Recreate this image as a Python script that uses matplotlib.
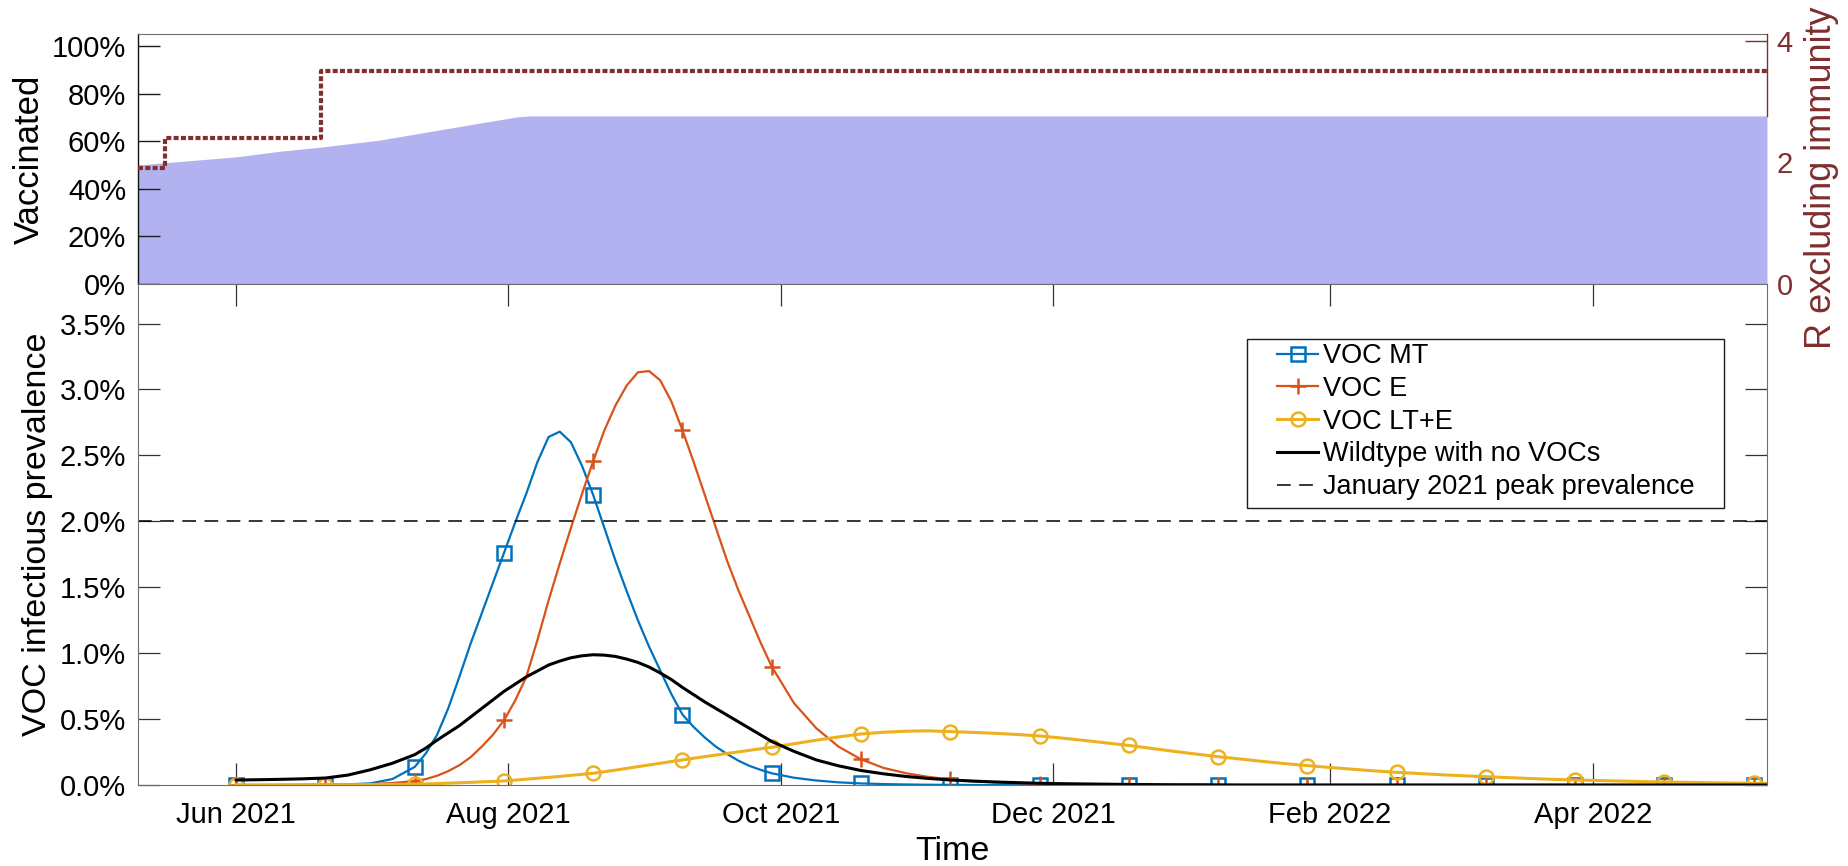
import matplotlib
matplotlib.use('Agg')
import matplotlib.pyplot as plt
import matplotlib.dates as mdates
from matplotlib.ticker import FixedLocator, FixedFormatter
from matplotlib.patches import Rectangle
import pandas as pd

plt.rcParams['font.family'] = ['Liberation Sans', 'DejaVu Sans']

# ---------------- data ----------------
x_start = '2021-05-10'
x_end = '2022-05-10'

vacc_dates = ['2021-05-10', '2021-06-01', '2021-06-11', '2021-06-20', '2021-07-03',
              '2021-07-14', '2021-07-25', '2021-08-03', '2021-08-06', '2022-05-10']
vacc_share = [0.500, 0.534, 0.558, 0.575, 0.604, 0.639, 0.674, 0.702, 0.706, 0.706]

r_dates = ['2021-05-10', '2021-05-16', '2021-06-20', '2022-05-10']
r_values = [1.9, 2.4, 3.5, 3.5]

# sample times, in days after 1 Jun 2021
prev_days = [0, 5, 10, 15, 20, 25, 30, 35, 40,
             42.5, 45, 47.5, 50, 52.5, 55, 57.5, 60, 62.5, 65, 67.5, 70, 72.5, 75, 77.5, 80,
             82.5, 85, 87.5, 90, 92.5, 95, 97.5, 100, 102.5, 105, 107.5, 110, 112.5, 115, 117.5, 120,
             125, 130, 135, 140, 145, 150, 155, 160, 165, 170, 175, 180, 185, 190, 195, 200,
             205, 210, 215, 220, 225, 230, 235, 240, 245, 250, 255, 260, 265, 270, 275, 280,
             285, 290, 295, 300, 305, 310, 315, 320, 325, 330, 335, 340, 343]
marker_days = [0, 20, 40, 60, 80, 100, 120, 140, 160, 180, 200, 220, 240, 260, 280, 300, 320, 340]

voc_mt = [0.0, 0.0, 0.0, 0.001, 0.002, 0.005, 0.012, 0.045, 0.137,
          0.24, 0.38, 0.58, 0.82, 1.07, 1.30, 1.53, 1.76, 1.99, 2.21, 2.45, 2.64, 2.68, 2.60, 2.42, 2.199,
          1.95, 1.70, 1.47, 1.25, 1.05, 0.87, 0.69, 0.534, 0.44, 0.36, 0.29, 0.235, 0.185, 0.145, 0.115, 0.089,
          0.055, 0.034, 0.02, 0.012, 0.007, 0.004, 0.002, 0.001, 0.0, 0.0, 0.0, 0.0, 0.0, 0.0, 0.0, 0.0,
          0.0, 0.0, 0.0, 0.0, 0.0, 0.0, 0.0, 0.0, 0.0, 0.0, 0.0, 0.0, 0.0, 0.0, 0.0, 0.0,
          0.0, 0.0, 0.0, 0.0, 0.0, 0.0, 0.0, 0.0, 0.0, 0.0, 0.0, 0.0, 0.0]

voc_e = [0.0, 0.0, 0.0, 0.001, 0.002, 0.004, 0.007, 0.015, 0.03,
         0.045, 0.07, 0.105, 0.15, 0.21, 0.29, 0.38, 0.49, 0.64, 0.82, 1.10, 1.40, 1.68, 1.95, 2.21, 2.457,
         2.69, 2.88, 3.03, 3.13, 3.14, 3.07, 2.91, 2.69, 2.45, 2.20, 1.95, 1.70, 1.48, 1.28, 1.08, 0.898,
         0.62, 0.43, 0.29, 0.195, 0.13, 0.09, 0.062, 0.042, 0.028, 0.02, 0.014, 0.01, 0.007, 0.005, 0.003, 0.002,
         0.001, 0.0, 0.0, 0.0, 0.0, 0.0, 0.0, 0.0, 0.0, 0.0, 0.0, 0.0, 0.0, 0.0, 0.0, 0.0,
         0.0, 0.0, 0.0, 0.0, 0.0, 0.0, 0.0, 0.0, 0.0, 0.0, 0.0, 0.0, 0.0]

voc_lte = [0.0, 0.0, 0.001, 0.001, 0.002, 0.002, 0.003, 0.004, 0.006,
           0.008, 0.011, 0.014, 0.017, 0.020, 0.024, 0.027, 0.031, 0.037, 0.044, 0.051, 0.058, 0.065, 0.073, 0.081, 0.089,
           0.101, 0.113, 0.126, 0.139, 0.152, 0.165, 0.178, 0.19, 0.203, 0.215, 0.227, 0.239, 0.251, 0.263, 0.275, 0.286,
           0.313, 0.340, 0.365, 0.387, 0.400, 0.408, 0.411, 0.405, 0.399, 0.392, 0.383, 0.372, 0.356, 0.338, 0.319, 0.30,
           0.278, 0.256, 0.235, 0.215, 0.197, 0.179, 0.162, 0.147, 0.133, 0.12, 0.107, 0.096, 0.087, 0.078, 0.07, 0.063,
           0.056, 0.049, 0.043, 0.038, 0.034, 0.030, 0.026, 0.023, 0.020, 0.017, 0.015, 0.013, 0.012]

wildtype = [0.038, 0.040, 0.043, 0.047, 0.053, 0.075, 0.115, 0.165, 0.23,
            0.28, 0.34, 0.395, 0.45, 0.515, 0.58, 0.645, 0.71, 0.765, 0.82, 0.865, 0.91, 0.94, 0.965, 0.98, 0.988,
            0.985, 0.975, 0.955, 0.93, 0.895, 0.85, 0.80, 0.74, 0.685, 0.63, 0.58, 0.53, 0.48, 0.43, 0.38, 0.33,
            0.255, 0.19, 0.145, 0.11, 0.085, 0.065, 0.05, 0.038, 0.03, 0.023, 0.018, 0.013, 0.01, 0.008, 0.006, 0.004,
            0.003, 0.002, 0.002, 0.001, 0.0, 0.0, 0.0, 0.0, 0.0, 0.0, 0.0, 0.0, 0.0, 0.0, 0.0, 0.0,
            0.0, 0.0, 0.0, 0.0, 0.0, 0.0, 0.0, 0.0, 0.0, 0.0, 0.0, 0.0, 0.0]

jan_peak = 2.0

series_labels = ['VOC MT', 'VOC E', 'VOC LT+E', 'Wildtype with no VOCs',
                 'January 2021 peak prevalence']

date_ticks = ['2021-06-01', '2021-08-01', '2021-10-01', '2021-12-01', '2022-02-01', '2022-04-01']
date_ticklabels = ['Jun 2021', 'Aug 2021', 'Oct 2021', 'Dec 2021', 'Feb 2022', 'Apr 2022']
vacc_ticks = [0, 0.2, 0.4, 0.6, 0.8, 1.0]
vacc_ticklabels = ['0%', '20%', '40%', '60%', '80%', '100%']
r_ticks = [0, 2, 4]
r_ticklabels = ['0', '2', '4']
prev_ticks = [0, 0.5, 1.0, 1.5, 2.0, 2.5, 3.0, 3.5]
prev_ticklabels = ['0.0%', '0.5%', '1.0%', '1.5%', '2.0%', '2.5%', '3.0%', '3.5%']

# ---------------- style ----------------
W, H = 1849, 866
C_BLUE = '#0072BD'
C_ORANGE = '#D95319'
C_YELLOW = '#EDB120'
C_RED = '#802E2E'
C_FILL = '#B2B2F0'
C_SPINE = '#6E6E6E'
TICK_FS = 21
LEG_FS = 19.5

fig = plt.figure(figsize=(W / 100, H / 100), dpi=100)

def fx(px):
    return px / W

def fy(py):
    return 1 - py / H

ax_l, ax_r = 138, 1767
top_t, top_b = 34, 284
low_t, low_b = 284, 785

ax_top = fig.add_axes([fx(ax_l), fy(top_b), fx(ax_r) - fx(ax_l), fy(top_t) - fy(top_b)])
ax_low = fig.add_axes([fx(ax_l), fy(low_b), fx(ax_r) - fx(ax_l), fy(low_t) - fy(low_b)])

xlim = (pd.Timestamp(x_start), pd.Timestamp(x_end))

# ---- top panel ----
vd = pd.to_datetime(vacc_dates)
ax_top.fill_between(vd, 0, vacc_share, color=C_FILL, linewidth=0, zorder=1)
ax_top.set_xlim(xlim)
ax_top.set_ylim(0, 1.05)
ax_top.set_xticks([])
ax_top.yaxis.set_major_locator(FixedLocator(vacc_ticks))
ax_top.yaxis.set_major_formatter(FixedFormatter(vacc_ticklabels))
ax_top.tick_params(axis='y', direction='in', length=16, width=1.0, color='#1a1a1a',
                   labelsize=TICK_FS, pad=8.5, right=False)
ax_top.set_ylabel('Vaccinated', fontsize=25, va='center')
ax_top.yaxis.set_label_coords((29 - ax_l) / (ax_r - ax_l), 0.5)
for s in ['top', 'bottom']:
    ax_top.spines[s].set_color(C_SPINE)
    ax_top.spines[s].set_linewidth(0.8)
ax_top.spines['right'].set_visible(False)
ax_top.spines['left'].set_color('#111111')
ax_top.spines['left'].set_linewidth(1.0)

ax_r2 = ax_top.twinx()
rd = pd.to_datetime(r_dates)
ax_r2.plot(rd, r_values, drawstyle='steps-post', color=C_RED, linewidth=3.0,
           linestyle=(0, (1.2, 0.55)), dash_capstyle='butt')
ax_r2.set_xlim(xlim)
ax_r2.set_ylim(0, 4.11)
ax_r2.yaxis.set_major_locator(FixedLocator(r_ticks))
ax_r2.yaxis.set_major_formatter(FixedFormatter(r_ticklabels))
ax_r2.tick_params(axis='y', direction='in', length=16, width=1.0, color=C_RED,
                  labelcolor=C_RED, labelsize=TICK_FS, pad=7)
for t in ax_r2.yaxis.get_major_ticks()[:2]:
    t.tick2line.set_visible(False)
ax_r2.spines['right'].set_color(C_RED)
ax_r2.spines['right'].set_linewidth(1.0)
ax_r2.spines['right'].set_bounds(2.77, 4.11)
for s in ['top', 'bottom', 'left']:
    ax_r2.spines[s].set_visible(False)
ax_r2.set_ylabel('R excluding immunity', fontsize=26, color=C_RED,
                 rotation=90, va='center')
ax_r2.yaxis.set_label_coords((1822 - ax_l) / (ax_r - ax_l), (top_b - 178) / (top_b - top_t))

# ---- lower panel ----
t0 = pd.Timestamp('2021-06-01')
pdx = [t0 + pd.Timedelta(days=d) for d in prev_days]
mk = [prev_days.index(d) for d in marker_days]
ax_low.plot(pdx, voc_mt, color=C_BLUE, linewidth=1.6, marker='s', markersize=9.5,
            markerfacecolor='none', markeredgewidth=1.8, markevery=mk, label=series_labels[0])
ax_low.plot(pdx, voc_e, color=C_ORANGE, linewidth=1.6, marker='+', markersize=11,
            markeredgewidth=1.8, markevery=mk, label=series_labels[1])
ax_low.plot(pdx, voc_lte, color=C_YELLOW, linewidth=2.2, marker='o', markersize=10,
            markerfacecolor='none', markeredgewidth=1.8, markevery=mk, label=series_labels[2])
ax_low.plot(pdx, wildtype, color='black', linewidth=2.2, label=series_labels[3])
ax_low.axhline(jan_peak, color='black', linewidth=1.1, linestyle=(0, (9, 5.5)),
               label=series_labels[4])

ax_low.set_xlim(xlim)
ax_low.set_ylim(0, 3.8)
ax_low.xaxis.set_major_locator(FixedLocator(mdates.date2num(pd.to_datetime(date_ticks))))
ax_low.xaxis.set_major_formatter(FixedFormatter(date_ticklabels))
ax_low.yaxis.set_major_locator(FixedLocator(prev_ticks))
ax_low.yaxis.set_major_formatter(FixedFormatter(prev_ticklabels))
ax_low.tick_params(axis='both', direction='in', length=16, width=0.9, color='#333333',
                   labelsize=TICK_FS, top=True, right=True)
ax_low.tick_params(axis='x', pad=11.5)
ax_low.tick_params(axis='y', pad=8.5)
for s in ax_low.spines.values():
    s.set_color(C_SPINE)
    s.set_linewidth(0.8)
ax_low.set_ylabel('VOC infectious prevalence', fontsize=24.5, va='center')
ax_low.yaxis.set_label_coords((38 - ax_l) / (ax_r - ax_l), 0.5)
ax_low.set_xlabel('Time', fontsize=24.5, va='center')
ax_low.xaxis.set_label_coords(0.5, (low_b - 852) / (low_b - low_t))

# legend with MATLAB-like box
box = Rectangle((fx(1247), fy(508)), fx(1724) - fx(1247), fy(339) - fy(508),
                transform=fig.transFigure, facecolor='white', edgecolor='#1a1a1a',
                linewidth=1.0, zorder=4.5, clip_on=False)
ax_low.add_patch(box)
leg = ax_low.legend(loc='upper left', bbox_to_anchor=(fx(1277), fy(343)),
                    bbox_transform=fig.transFigure, frameon=False, fontsize=LEG_FS,
                    borderpad=0, borderaxespad=0, handlelength=1.53, handletextpad=0.17,
                    labelspacing=0.25, numpoints=1)
leg.set_zorder(5)

fig.savefig('out.png', dpi=100)
